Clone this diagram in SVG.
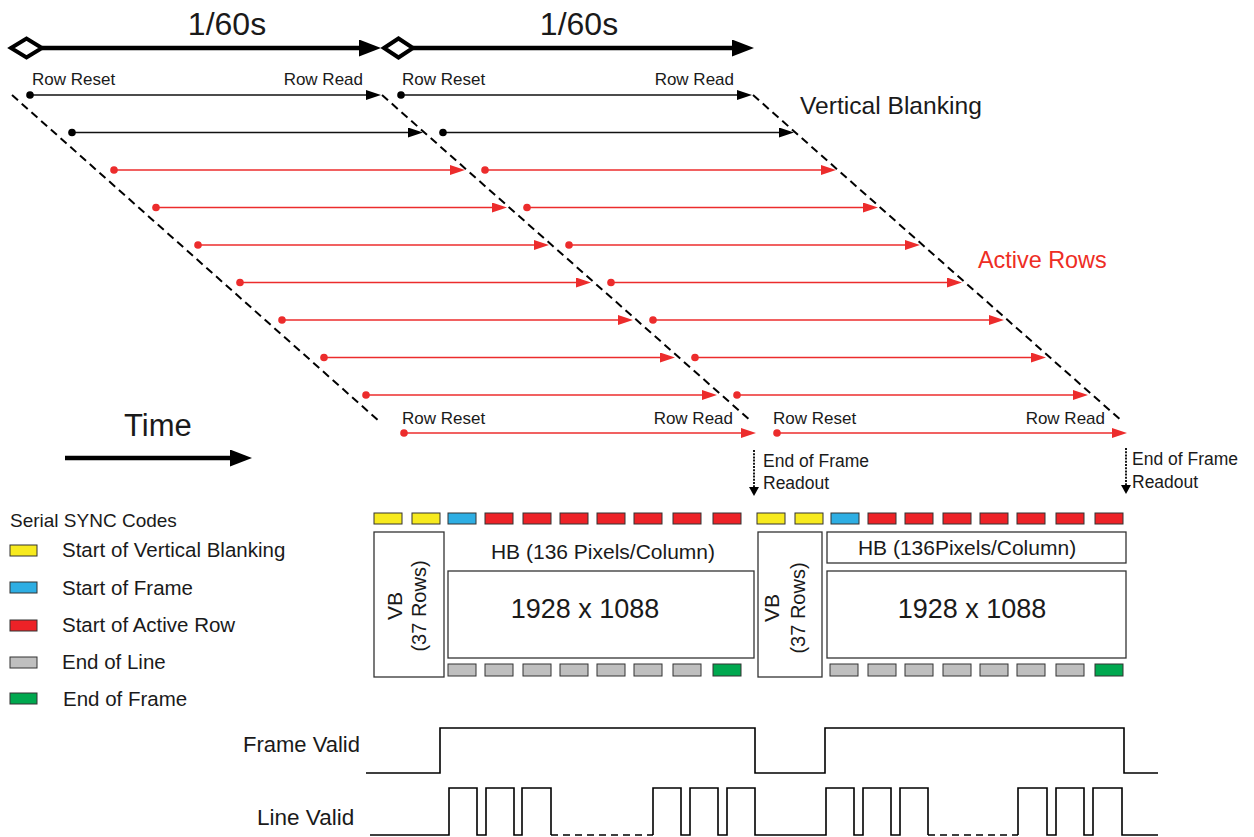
<svg xmlns="http://www.w3.org/2000/svg" width="1254" height="837" viewBox="0 0 1254 837">
<style>
text{font-family:"Liberation Sans",Arial,sans-serif;fill:#1a1a1a}
.lbl{font-size:17px}
.red{stroke:#ec2c2c;stroke-width:1.5;fill:none}
.blk{stroke:#111;stroke-width:1.5;fill:none}
.dash{stroke:#000;stroke-width:2;stroke-dasharray:8 5;fill:none}
.big{stroke:#000;stroke-width:4.5;fill:none}
.wave{stroke:#000;stroke-width:1.6;fill:none}
.box{fill:#fff;stroke:#333;stroke-width:1.3}
.y{fill:#f7ea1e;stroke:#333;stroke-width:1}
.b{fill:#2eaee3;stroke:#333;stroke-width:1}
.r{fill:#ed2227;stroke:#333;stroke-width:1}
.g{fill:#bfbfbf;stroke:#333;stroke-width:1}
.gr{fill:#00a84f;stroke:#333;stroke-width:1}
.dr{fill:#ec2c2c}
.db{fill:#000}
</style>
<defs>
<marker id="aR" markerUnits="userSpaceOnUse" viewBox="0 0 15 10" markerWidth="15" markerHeight="10" refX="1" refY="5" orient="auto"><path d="M0,0 L15,5 L0,10 z" fill="#ec2c2c"/></marker>
<marker id="aB" markerUnits="userSpaceOnUse" viewBox="0 0 15 10" markerWidth="15" markerHeight="10" refX="1" refY="5" orient="auto"><path d="M0,0 L15,5 L0,10 z" fill="#000"/></marker>
<marker id="aBig" markerUnits="userSpaceOnUse" viewBox="0 0 22 17" markerWidth="22" markerHeight="17" refX="1" refY="8.5" orient="auto"><path d="M0,0 L22,8.5 L0,17 z" fill="#000"/></marker>
<marker id="aS" markerUnits="userSpaceOnUse" viewBox="0 0 9 10" markerWidth="9" markerHeight="10" refX="1" refY="5" orient="auto"><path d="M0,0 L9,5 L0,10 z" fill="#000"/></marker>
</defs>

<g id="period-1">
<text x="227" y="35" font-size="32" text-anchor="middle">1/60s</text>
</g>
<g id="period-2">
<text x="579" y="35" font-size="32" text-anchor="middle">1/60s</text>
</g>

<g id="labels-top">
<text class="lbl" x="32" y="85">Row Reset</text>
<text class="lbl" x="363" y="85" text-anchor="end">Row Read</text>
<text class="lbl" x="402" y="85">Row Reset</text>
<text class="lbl" x="734" y="85" text-anchor="end">Row Read</text>
<text x="800" y="114" font-size="24.6">Vertical Blanking</text>
<text x="978" y="268" font-size="23.4" style="fill:#ee2d24">Active Rows</text>
</g>

<g id="labels-bottom">
<text class="lbl" x="402" y="424">Row Reset</text>
<text class="lbl" x="733" y="424" text-anchor="end">Row Read</text>
<text class="lbl" x="773" y="424">Row Reset</text>
<text class="lbl" x="1105" y="424" text-anchor="end">Row Read</text>
</g>

<g id="time">
<text x="124" y="436" font-size="31">Time</text>
</g>

<g id="eof-1">
<text x="763" y="467" font-size="17.5">End of Frame</text>
<text x="763" y="489" font-size="17.5">Readout</text>
</g>
<g id="eof-2">
<text x="1132" y="465" font-size="17.5">End of Frame</text>
<text x="1132" y="488" font-size="17.5">Readout</text>
</g>

<g id="connectors">
<polygon points="11,48 26.5,38.5 42,48 26.5,57.5" fill="#fff" stroke="#000" stroke-width="4"/>
<line class="big" x1="42" y1="48" x2="360" y2="48" marker-end="url(#aBig)"/>
<polygon points="384,48 398.5,38.5 413,48 398.5,57.5" fill="#fff" stroke="#000" stroke-width="4"/>
<line class="big" x1="413" y1="48" x2="733" y2="48" marker-end="url(#aBig)"/>
<line class="big" x1="65" y1="458" x2="231" y2="458" stroke-width="4" marker-end="url(#aBig)"/>
<line class="dash" x1="12" y1="95" x2="380" y2="422"/>
<line class="dash" x1="382" y1="95" x2="752" y2="422"/>
<line class="dash" x1="753" y1="95" x2="1123" y2="422"/>
<line class="blk" x1="30" y1="95" x2="367" y2="95" marker-end="url(#aB)"/>
<line class="blk" x1="72" y1="132.5" x2="409" y2="132.5" marker-end="url(#aB)"/>
<line class="blk" x1="401" y1="95" x2="738" y2="95" marker-end="url(#aB)"/>
<line class="blk" x1="443" y1="132.5" x2="780" y2="132.5" marker-end="url(#aB)"/>
<circle class="db" cx="30" cy="95" r="3.8"/>
<circle class="db" cx="72" cy="132.5" r="3.8"/>
<circle class="db" cx="401" cy="95" r="3.8"/>
<circle class="db" cx="443" cy="132.5" r="3.8"/>
<line class="red" x1="114" y1="170" x2="451" y2="170" marker-end="url(#aR)"/>
<line class="red" x1="156" y1="207.5" x2="493" y2="207.5" marker-end="url(#aR)"/>
<line class="red" x1="198" y1="245" x2="535" y2="245" marker-end="url(#aR)"/>
<line class="red" x1="240" y1="282.5" x2="577" y2="282.5" marker-end="url(#aR)"/>
<line class="red" x1="282" y1="320" x2="619" y2="320" marker-end="url(#aR)"/>
<line class="red" x1="324" y1="357.5" x2="661" y2="357.5" marker-end="url(#aR)"/>
<line class="red" x1="366" y1="395" x2="703" y2="395" marker-end="url(#aR)"/>
<line class="red" x1="404" y1="433" x2="742" y2="433" marker-end="url(#aR)"/>
<line class="red" x1="485" y1="170" x2="822" y2="170" marker-end="url(#aR)"/>
<line class="red" x1="527" y1="207.5" x2="864" y2="207.5" marker-end="url(#aR)"/>
<line class="red" x1="569" y1="245" x2="906" y2="245" marker-end="url(#aR)"/>
<line class="red" x1="611" y1="282.5" x2="948" y2="282.5" marker-end="url(#aR)"/>
<line class="red" x1="653" y1="320" x2="990" y2="320" marker-end="url(#aR)"/>
<line class="red" x1="695" y1="357.5" x2="1032" y2="357.5" marker-end="url(#aR)"/>
<line class="red" x1="737" y1="395" x2="1074" y2="395" marker-end="url(#aR)"/>
<line class="red" x1="777" y1="433" x2="1113" y2="433" marker-end="url(#aR)"/>
<g class="dr">
<circle cx="114" cy="170" r="3.8"/><circle cx="156" cy="207.5" r="3.8"/><circle cx="198" cy="245" r="3.8"/><circle cx="240" cy="282.5" r="3.8"/><circle cx="282" cy="320" r="3.8"/><circle cx="324" cy="357.5" r="3.8"/><circle cx="366" cy="395" r="3.8"/><circle cx="404" cy="433" r="3.8"/>
<circle cx="485" cy="170" r="3.8"/><circle cx="527" cy="207.5" r="3.8"/><circle cx="569" cy="245" r="3.8"/><circle cx="611" cy="282.5" r="3.8"/><circle cx="653" cy="320" r="3.8"/><circle cx="695" cy="357.5" r="3.8"/><circle cx="737" cy="395" r="3.8"/><circle cx="777" cy="433" r="3.8"/>
</g>
<line x1="754" y1="450" x2="754" y2="488" stroke="#000" stroke-width="1.8" stroke-dasharray="2 1.2" marker-end="url(#aS)"/>
<line x1="1126" y1="448" x2="1126" y2="486" stroke="#000" stroke-width="1.8" stroke-dasharray="2 1.2" marker-end="url(#aS)"/>
</g>

<g id="legend">
<text x="10" y="527" font-size="19">Serial SYNC Codes</text>
<rect class="y" x="10" y="545" width="27" height="11"/>
<text x="62" y="557" font-size="20.5">Start of Vertical Blanking</text>
<rect class="b" x="10" y="582" width="27" height="11"/>
<text x="62" y="595" font-size="20.5">Start of Frame</text>
<rect class="r" x="10" y="620" width="27" height="11"/>
<text x="62" y="632" font-size="20.5">Start of Active Row</text>
<rect class="g" x="10" y="657" width="27" height="11"/>
<text x="62" y="669" font-size="20.5">End of Line</text>
<rect class="gr" x="10" y="693" width="27" height="11"/>
<text x="63" y="706" font-size="20.5">End of Frame</text>
</g>

<g id="frame-1">
<rect class="y" x="374" y="513" width="28" height="11"/>
<rect class="y" x="412" y="513" width="28" height="11"/>
<rect class="b" x="448" y="513" width="28" height="11"/>
<rect class="r" x="485" y="513" width="28" height="11"/>
<rect class="r" x="523" y="513" width="28" height="11"/>
<rect class="r" x="560" y="513" width="28" height="11"/>
<rect class="r" x="597" y="513" width="28" height="11"/>
<rect class="r" x="634" y="513" width="28" height="11"/>
<rect class="r" x="673" y="513" width="28" height="11"/>
<rect class="r" x="713" y="513" width="28" height="11"/>
<rect class="box" x="374" y="532" width="70" height="145"/>
<text transform="translate(402,606) rotate(-90)" font-size="21" text-anchor="middle">VB</text>
<text transform="translate(426,606) rotate(-90)" font-size="20" text-anchor="middle">(37 Rows)</text>
<text x="603" y="559" font-size="21" text-anchor="middle">HB (136 Pixels/Column)</text>
<rect class="box" x="448" y="571" width="306" height="87"/>
<text x="585" y="618" font-size="27" text-anchor="middle">1928 x 1088</text>
<rect class="g" x="448" y="664" width="28" height="12"/>
<rect class="g" x="485" y="664" width="28" height="12"/>
<rect class="g" x="523" y="664" width="28" height="12"/>
<rect class="g" x="560" y="664" width="28" height="12"/>
<rect class="g" x="597" y="664" width="28" height="12"/>
<rect class="g" x="634" y="664" width="28" height="12"/>
<rect class="g" x="673" y="664" width="28" height="12"/>
<rect class="gr" x="713" y="664" width="28" height="12"/>
</g>

<g id="frame-2">
<rect class="y" x="757" y="513" width="28" height="11"/>
<rect class="y" x="795" y="513" width="28" height="11"/>
<rect class="b" x="831" y="513" width="28" height="11"/>
<rect class="r" x="868" y="513" width="28" height="11"/>
<rect class="r" x="905" y="513" width="28" height="11"/>
<rect class="r" x="943" y="513" width="28" height="11"/>
<rect class="r" x="980" y="513" width="28" height="11"/>
<rect class="r" x="1017" y="513" width="28" height="11"/>
<rect class="r" x="1056" y="513" width="28" height="11"/>
<rect class="r" x="1095" y="513" width="28" height="11"/>
<rect class="box" x="758" y="532" width="64" height="145"/>
<text transform="translate(779,608) rotate(-90)" font-size="21" text-anchor="middle">VB</text>
<text transform="translate(805,608) rotate(-90)" font-size="20" text-anchor="middle">(37 Rows)</text>
<rect class="box" x="827" y="532" width="299" height="31"/>
<text x="967" y="555" font-size="21" text-anchor="middle">HB (136Pixels/Column)</text>
<rect class="box" x="827" y="571" width="299" height="87"/>
<text x="972" y="618" font-size="27" text-anchor="middle">1928 x 1088</text>
<rect class="g" x="830" y="664" width="28" height="12"/>
<rect class="g" x="868" y="664" width="28" height="12"/>
<rect class="g" x="905" y="664" width="28" height="12"/>
<rect class="g" x="943" y="664" width="28" height="12"/>
<rect class="g" x="980" y="664" width="28" height="12"/>
<rect class="g" x="1017" y="664" width="28" height="12"/>
<rect class="g" x="1056" y="664" width="28" height="12"/>
<rect class="gr" x="1095" y="664" width="28" height="12"/>
</g>

<g id="frame-valid">
<text x="243" y="752" font-size="22">Frame Valid</text>
<polyline class="wave" points="366,773 440,773 440,728 755,728 755,773 825,773 825,728 1124,728 1124,773 1158,773"/>
</g>

<g id="line-valid">
<text x="257" y="825" font-size="22.5">Line Valid</text>
<polyline class="wave" points="370,835 449,835 449,788 477,788 477,835 486,835 486,788 514,788 514,835 522,835 522,788 551,788 551,835"/>
<line class="wave" x1="551" y1="835" x2="653" y2="835" stroke-dasharray="7 5"/>
<polyline class="wave" points="653,835 653,788 681,788 681,835 690,835 690,788 718,788 718,835 727,835 727,788 755,788 755,835 826,835 826,788 854,788 854,835 863,835 863,788 891,788 891,835 900,835 900,788 928,788 928,835"/>
<line class="wave" x1="928" y1="835" x2="1018" y2="835" stroke-dasharray="7 5"/>
<polyline class="wave" points="1018,835 1018,788 1047,788 1047,835 1056,835 1056,788 1084,788 1084,835 1093,835 1093,788 1122,788 1122,835 1158,835"/>
</g>
</svg>
